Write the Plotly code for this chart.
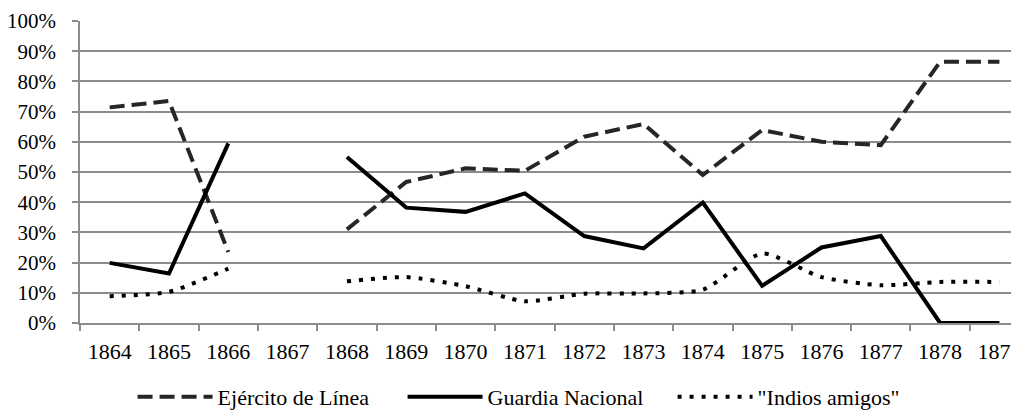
import plotly.graph_objects as go

years = ["1864", "1865", "1866", "1867", "1868", "1869", "1870", "1871",
         "1872", "1873", "1874", "1875", "1876", "1877", "1878", "1879"]

ejercito = [0.714, 0.735, 0.235, None, 0.31, 0.467, 0.512, 0.504,
            0.617, 0.659, 0.49, 0.639, 0.60, 0.589, 0.865, 0.865]
guardia = [0.199, 0.164, 0.595, None, 0.55, 0.382, 0.368, 0.429,
           0.288, 0.247, 0.399, 0.123, 0.25, 0.288, 0.0, 0.0]
indios = [0.0885, 0.103, 0.18, None, 0.138, 0.152, 0.122, 0.072,
          0.097, 0.098, 0.11, 0.23, 0.152, 0.125, 0.136, 0.136]

names = ["Ejército de Línea", "Guardia Nacional", "\"Indios amigos\""]

FONT = "Liberation Serif, Times New Roman, serif"
GRID = "#8c8c8c"

fig = go.Figure()
fig.add_trace(go.Scatter(x=years, y=ejercito, mode="lines", name=names[0],
                         line=dict(color="#262626", width=4, dash="15px,7px")))
fig.add_trace(go.Scatter(x=years, y=guardia, mode="lines", name=names[1],
                         line=dict(color="#000000", width=4)))
fig.add_trace(go.Scatter(x=years, y=indios, mode="lines", name=names[2],
                         line=dict(color="#000000", width=4, dash="4px,8px",
                                   shape="spline", smoothing=0.6)))

fig.update_layout(
    width=1011, height=430,
    margin=dict(l=72, r=0, t=13, b=115),
    paper_bgcolor="white", plot_bgcolor="white",
    font=dict(family=FONT, size=22, color="black"),
    showlegend=True,
    legend=dict(orientation="h", x=0.056, xanchor="left", y=-0.245, yanchor="middle",
                font=dict(family=FONT, size=22, color="black"),
                entrywidth=180, itemwidth=75),
    xaxis=dict(type="category", range=[-0.5, 15.33], tickson="boundaries",
               ticks="outside", ticklen=6, tickcolor=GRID, tickwidth=1.5,
               showline=True, linecolor=GRID, linewidth=1.5,
               tickfont=dict(family=FONT, size=22),
               showgrid=False, ticklabelstandoff=8, automargin=False),
    yaxis=dict(range=[0, 1], dtick=0.1, tickformat=".0%",
               ticks="outside", ticklen=6, tickcolor=GRID, tickwidth=1.5,
               showline=True, linecolor=GRID, linewidth=1.5,
               tickfont=dict(family=FONT, size=21),
               showgrid=True, gridcolor=GRID, gridwidth=1.5,
               zeroline=False, ticklabelstandoff=12, automargin=False),
)

fig.write_html("out.html")
